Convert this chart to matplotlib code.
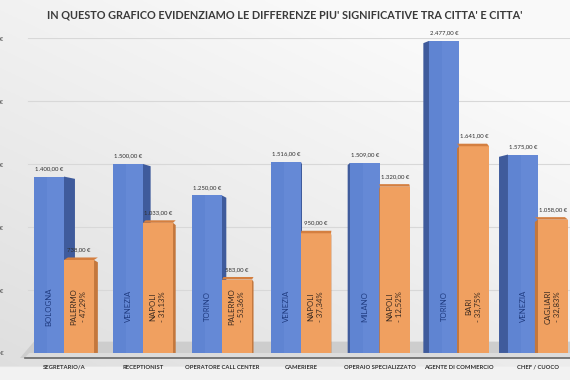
import matplotlib
matplotlib.use("Agg")
import matplotlib.pyplot as plt
import numpy as np
from matplotlib.patches import Polygon

# ---- data ----
categories = ["SEGRETARIO/A", "RECEPTIONIST", "OPERATORE CALL CENTER", "CAMERIERE",
              "OPERAIO SPECIALIZZATO", "AGENTE DI COMMERCIO", "CHEF / CUOCO"]
high_values = [1400, 1500, 1250, 1516, 1509, 2477, 1575]
low_values = [738, 1033, 583, 950, 1320, 1641, 1058]
high_cities = ["BOLOGNA", "VENEZIA", "TORINO", "VENEZIA", "MILANO", "TORINO", "VENEZIA"]
low_cities = ["PALERMO", "NAPOLI", "PALERMO", "NAPOLI", "NAPOLI", "BARI", "CAGLIARI"]
pct_labels = ["- 47,29%", "- 31,13%", "- 53,36%", "- 37,34%", "- 12,52%", "- 33,75%", "- 32,83%"]
ytick_values = [0, 500, 1000, 1500, 2000, 2500]
title = "IN QUESTO GRAFICO EVIDENZIAMO LE DIFFERENZE PIU' SIGNIFICATIVE TRA CITTA' E CITTA'"

def euro(v):
    if v == 0:
        return " - €"
    s = f"{v:,.2f}"
    s = s.replace(",", "X").replace(".", ",").replace("X", ".")
    return s + " €"

plt.rcParams['font.family'] = ['Lato', 'DejaVu Sans']

W, H = 570, 380
fig = plt.figure(figsize=(W / 100, H / 100), dpi=100)

# background gradient
bg = fig.add_axes([0, 0, 1, 1], zorder=-10)
yy, xx = np.mgrid[0:1:200j, 0:1:300j]
g = 0.87 + 0.11 * np.clip(0.5 * xx + 0.7 * (1 - yy), 0, 1)
g[yy > 0.965] = 0.95
bg.imshow(np.dstack([g, g, g]), extent=[0, 1, 0, 1], aspect='auto', origin='upper')
bg.axis('off')

ax = fig.add_axes([20 / W, (H - 358) / H, 550 / W, 320 / H])
ax.patch.set_alpha(0)
ax.set_xlim(-0.557, 6.405)
ax.set_ylim(-40, 2500)

x = np.arange(len(categories))
bw = 0.38
blue_c = np.array(x) - bw / 2
orange_c = np.array(x) + bw / 2

# floor
ax.add_patch(Polygon([(-0.557, -40), (-0.38, 90), (6.405, 90), (6.405, -40)],
                     closed=True, facecolor="#cdcdcd", edgecolor="none", zorder=1))
ax.add_patch(Polygon([(-0.50, -40), (-0.44, 0), (6.405, 0), (6.405, -40)],
                     closed=True, facecolor="#dcdcdc", edgecolor="none", zorder=1.1))

# gridlines
for v in ytick_values[1:]:
    ax.plot([-0.45, 6.405], [v, v], color="#d8d8d8", lw=0.8, zorder=0.5)

def side_face(xc, h, depth, color, z):
    xe = xc + bw / 2 if depth >= 0 else xc - bw / 2
    pts = [(xe, 0), (xe, h), (xe + depth, h - 18), (xe + depth, 0)]
    ax.add_patch(Polygon(pts, closed=True, facecolor=color, edgecolor="none", zorder=z))

for i in range(len(categories)):
    d = 0.042 * (3.3 - i)
    # blue
    side_face(blue_c[i], high_values[i], d, "#3f5b9c", 2)
    ax.bar(blue_c[i], high_values[i], width=bw, color="#5f84d2", edgecolor="none", zorder=3)
    ax.bar(blue_c[i] - bw / 2 + bw * 0.42, high_values[i], width=bw * 0.58, align='edge',
           color="#6589d6", edgecolor="none", zorder=3.1)
    # orange
    do = 0.35 * d
    side_face(orange_c[i], low_values[i], do, "#c4773c", 4)
    ax.bar(orange_c[i], low_values[i], width=bw, color="#f0a060", edgecolor="none", zorder=5)
    ax.add_patch(Polygon([(orange_c[i] - bw / 2, low_values[i]), (orange_c[i] + bw / 2, low_values[i]),
                          (orange_c[i] + bw / 2 + do, low_values[i] + 20),
                          (orange_c[i] - bw / 2 + do, low_values[i] + 20)],
                         closed=True, facecolor="#d47f40", edgecolor="none", zorder=5.5))
    # value labels
    ax.text(blue_c[i], high_values[i] + 45, euro(high_values[i]), ha='center', va='bottom',
            fontsize=4.3, color="#303030", zorder=6)
    ax.text(orange_c[i], low_values[i] + 60, euro(low_values[i]), ha='center', va='bottom',
            fontsize=4.3, color="#303030", zorder=6)
    # in-bar labels
    ax.text(blue_c[i], 370, high_cities[i], rotation=90, ha='center', va='center',
            fontsize=5.6, color="#1f3b80", zorder=6)
    ax.text(orange_c[i], 370, low_cities[i] + "\n" + pct_labels[i], rotation=90,
            ha='center', va='center', multialignment='center',
            fontsize=5.6, color="#3a2a20", linespacing=1.45, zorder=6)

# axes styling
for s in ["top", "right", "left"]:
    ax.spines[s].set_visible(False)
ax.spines["bottom"].set_color("#666666")
ax.spines["bottom"].set_linewidth(1.2)
ax.spines["bottom"].set_bounds(-0.50, 6.405)
ax.set_xticks(x)
ax.set_xticklabels(categories, fontsize=4.2, color="#303030", fontweight='bold')
ax.tick_params(axis='x', length=0, pad=5)
ax.set_yticks(ytick_values)
ax.set_yticklabels([euro(v) for v in ytick_values], fontsize=4.3, color="#404040")
ax.tick_params(axis='y', length=0, pad=12)

fig.text(0.5, 1 - 15 / H, title, ha='center', va='center', fontsize=7.8,
         fontweight='bold', color="#3a3a3a")

fig.savefig("out.png", dpi=100)
